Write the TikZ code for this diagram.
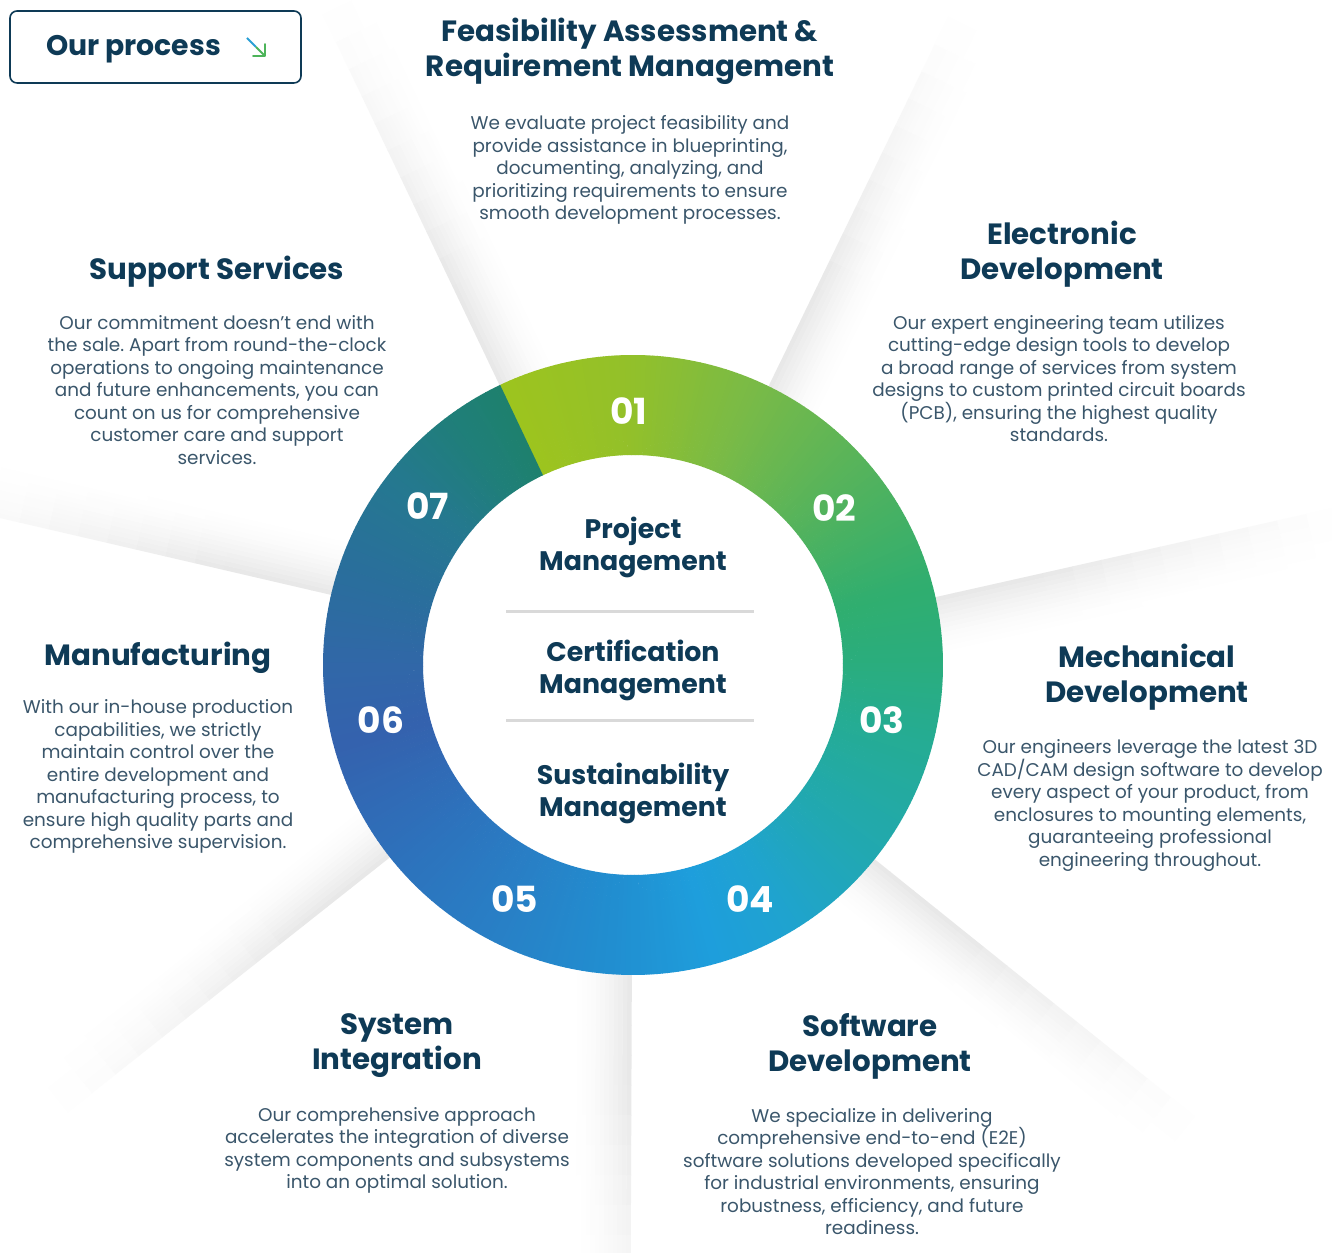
\documentclass[tikz,border=0pt]{standalone}
\usepackage{fontspec}
\setmainfont{Poppins}
\frenchspacing

\definecolor{navy}{HTML}{0E3A56}
\definecolor{slate}{HTML}{3A566B}
\definecolor{rulegray}{HTML}{D9D9D9}
\definecolor{arrowblue}{HTML}{2A9FD6}
\definecolor{arrowgreen}{HTML}{4DB45A}
% ring colours, clockwise from the 07/01 edge
\definecolor{r0}{HTML}{9DC41E}
\definecolor{r1}{HTML}{93C02A}
\definecolor{r2}{HTML}{78BA48}
\definecolor{r3}{HTML}{55B35C}
\definecolor{r4}{HTML}{30AE6F}
\definecolor{r5}{HTML}{2AAD7D}
\definecolor{r6}{HTML}{25AC93}
\definecolor{r7}{HTML}{21A8B2}
\definecolor{r8}{HTML}{1FA3D0}
\definecolor{r9}{HTML}{1E9EDC}
\definecolor{r10}{HTML}{218ED0}
\definecolor{r11}{HTML}{2880C6}
\definecolor{r12}{HTML}{2D72BC}
\definecolor{r13}{HTML}{3462AE}
\definecolor{r14}{HTML}{3167A8}
\definecolor{r15}{HTML}{296F9B}
\definecolor{r16}{HTML}{257890}
\definecolor{r17}{HTML}{1F7F78}
\definecolor{r18}{HTML}{1E806E}

\tikzset{
  head/.style={text=navy, font=\fontsize{29.3}{35}\selectfont\bfseries, align=center, inner sep=0pt},
  body/.style={text=slate, font=\fontsize{18.4}{22.5}\selectfont, align=center, inner sep=0pt},
  num/.style={text=white, font=\fontsize{36}{40}\selectfont\bfseries, inner sep=0pt},
  hub/.style={text=navy, font=\fontsize{26.8}{32.5}\selectfont\bfseries, align=center, inner sep=0pt},
  sepline/.style={rulegray, line width=3pt},
}

\begin{document}
\begin{tikzpicture}[x=1pt,y=1pt]
\useasboundingbox (0,0) rectangle (1332,1252);
\clip (0,0) rectangle (1332,1252);
\fill[white] (0,0) rectangle (1332,1252);
\coordinate (ring) at (633,587);

%rays
\foreach \r in {0,...,6}{
  \begin{scope}[shift={(ring)}, rotate={115.5-\r*51.4286}]
    \foreach \k in {0,...,11}
      \foreach \j in {0,...,13}{
        \pgfmathsetmacro\v{9*(1-\k/12)^1.5*min(1,(720-(315+\j*30))/300)}
        \fill[black!\v] ({300+\j*30},{-\k*4.5}) rectangle ({330.6+\j*30},{-\k*4.5-4.8});
      }
  \end{scope}
}

%ring
\begin{scope}[shift={(ring)}]
\foreach \s/\e/\ca/\cb in {0/25/r0/r1, 25/50/r1/r2, 50/75/r2/r3, 75/100/r3/r4,
    100/115/r4/r5, 115/130/r5/r6, 130/155/r6/r7, 155/175/r7/r8, 175/190/r8/r9,
    190/210/r9/r10, 210/232/r10/r11, 232/255/r11/r12, 255/280/r12/r13,
    280/295/r13/r14, 295/315/r14/r15, 315/333/r15/r16, 333/350/r16/r17,
    350/360/r17/r18}{
  \pgfmathtruncatemacro\n{\e-\s-1}
  \foreach \i in {0,...,\n}{
    \pgfmathsetmacro\p{100*(\i+0.5)/(\e-\s)}
    \pgfmathsetmacro\a{115.5-\s-\i}
    \pgfmathsetmacro\b{\a-1.12}
    \fill[\cb!\p!\ca] (\a:310) arc[start angle=\a, end angle=\b, radius=310]
      -- (\b:210) arc[start angle=\b, end angle=\a, radius=210] -- cycle;
  }
}
\end{scope}

%numbers
\foreach \lab/\ang/\rad [count=\i] in {01/90.9/254, 02/37.9/255, 03/-12.5/255,
    04/-63.4/262, 05/-116.8/262, 06/-167.7/258, 07/142.2/260}
  \path ([shift={(\ang:\rad)}]ring) node[num] (num\i) {\lab};

%hub
\path (633,704.5) node[hub] (project) {Project\\Management};
\path (633,581.5) node[hub] (certification) {Certification\\Management};
\path (633,458.5) node[hub] (sustainability) {Sustainability\\Management};
\draw[sepline] (506,640) -- (754,640);
\draw[sepline] (506,531) -- (754,531);

%title box
\path (155.5,1205) node[draw=navy, line width=1.6pt, rounded corners=7pt,
  minimum width=291pt, minimum height=72pt] (processbox) {};
\path (133.5,1203) node[text=navy, font=\fontsize{28.3}{32}\selectfont\bfseries, inner sep=0pt] (process) {Our process};
\draw[arrowblue, line width=1.8pt] (247,1214) -- (256,1205);
\draw[arrowgreen, line width=1.8pt] (256,1205) -- (264.5,1196.5);
\draw[arrowgreen, line width=1.8pt, line cap=round, line join=round] (265,1208) -- (265,1196) -- (253,1196);

%feasibility
\path (630,1200.5) node[head] (feasibility) {Feasibility Assessment \&\\Requirement Management};
\path (630,1082) node[body] (feasibilitytext) {We evaluate project feasibility and\\provide assistance in blueprinting,\\documenting, analyzing, and\\prioritizing requirements to ensure\\smooth development processes.};

%electronic
\path (1062,997.5) node[head] (electronic) {Electronic\\Development};
\path (1059,873.5) node[body] (electronictext) {Our expert engineering team utilizes\\cutting-edge design tools to develop\\a broad range of services from system\\designs to custom printed circuit boards\\(PCB), ensuring the highest quality\\standards.};

%mechanical
\path (1147,574.5) node[head] (mechanical) {Mechanical\\Development};
\path (1150,446.5) node[body] (mechanicaltext) {Our engineers leverage the latest 3D\\CAD/CAM design software to develop\\every aspect of your product, from\\enclosures to mounting elements,\\guaranteeing professional\\engineering throughout.};

%software
\path (870,206) node[head] (software) {Software\\Development};
\path (872,80.5) node[body] (softwaretext) {We specialize in delivering\\comprehensive end-to-end (E2E)\\software solutions developed specifically\\for industrial environments, ensuring\\robustness, efficiency, and future\\readiness.};

%integration
\path (397,206) node[head] (integration) {System\\Integration};
\path (397,101.5) node[body] (integrationtext) {Our comprehensive approach\\accelerates the integration of diverse\\system components and subsystems\\into an optimal solution.};

%manufacturing
\path (158,594) node[head] (manufacturing) {Manufacturing};
\path (158,475.5) node[body] (manufacturingtext) {With our in-house production\\capabilities, we strictly\\maintain control over the\\entire development and\\manufacturing process, to\\ensure high quality parts and\\comprehensive supervision.};

%support
\path (217,980) node[head] (support) {Support Services};
\path (217,862) node[body] (supporttext) {Our commitment doesn't end with\\the sale. Apart from round-the-clock\\operations to ongoing maintenance\\and future enhancements, you can\\count on us for comprehensive\\customer care and support\\services.};
\end{tikzpicture}
\end{document}
